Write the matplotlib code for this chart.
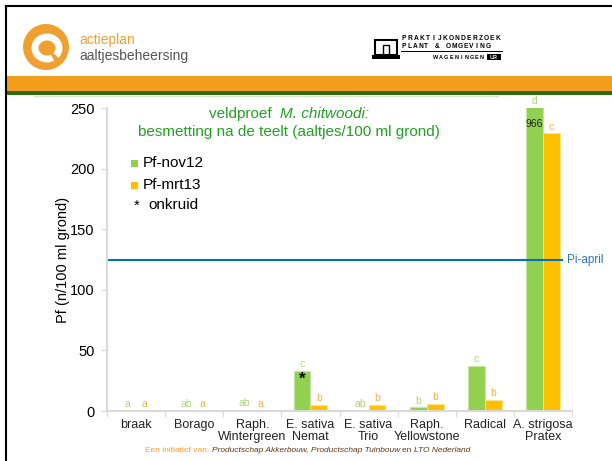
import numpy as np
import matplotlib.pyplot as plt
from matplotlib.patches import Circle, Rectangle, Arc

plt.rcParams["font.family"] = ["Liberation Sans", "DejaVu Sans"]

# data
gewassen = ["braak", "Borago", "Raph.\nWintergreen", "E. sativa\nNemat", "E. sativa\nTrio",
            "Raph.\nYellowstone", "Radical", "A. strigosa\nPratex"]
pf_nov12 = [0, 0.5, 1, 33, 0.5, 3, 37, 966]
pf_mrt13 = [0, 0, 0, 4.7, 5, 6, 9, 229]
letters_nov12 = ["a", "ab", "ab", "c", "ab", "b", "c", "d"]
letters_mrt13 = ["a", "a", "a", "b", "b", "b", "b", "c"]
pi_april = 125
ymax = 250

groen = "#92d050"
oranje = "#ffc000"

fig = plt.figure(figsize=(6.12, 4.61), dpi=100)

# slide decoration layer (pixel coordinates, top-left origin)
deco = fig.add_axes([0, 0, 1, 1])
deco.set_xlim(0, 612)
deco.set_ylim(461, 0)
deco.axis("off")
deco.plot([6, 6], [6, 461], color="black", lw=1.5)
deco.plot([6, 612], [6.5, 6.5], color="black", lw=1.5)
deco.add_patch(Rectangle((6, 76), 606, 15, color="#f49e1e", lw=0))
deco.add_patch(Rectangle((6, 91), 606, 4, color="#2f6b0b", lw=0))
deco.plot([34, 498], [96, 96], color="#d8e4cc", lw=1)

# actieplan logo
deco.add_patch(Circle((46, 47), 23, color="#f0a030", lw=0))
deco.add_patch(Arc((47, 48), 24, 22, theta1=60, theta2=400, color="white", lw=5))
deco.text(79, 40, "actieplan", color="#f0a030", fontsize=10, va="center")
deco.text(79, 56, "aaltjesbeheersing", color="#555555", fontsize=10, va="center")

# PPO logo
deco.add_patch(Rectangle((375, 40), 22, 15, fill=False, ec="black", lw=1.5))
deco.add_patch(Rectangle((383, 45), 6, 10, fill=False, ec="black", lw=1))
deco.add_patch(Rectangle((372, 55), 28, 4, color="black", lw=0))


def spaced(txt, x0, x1, y, size):
    step = (x1 - x0) / (len(txt) - 1)
    for k, ch in enumerate(txt):
        deco.text(x0 + k * step, y, ch, fontsize=size, ha="center", va="center", weight="bold")


spaced("PRAKTIJKONDERZOEK", 404, 498, 39, 4.8)
spaced("PLANT & OMGEVING", 404, 488, 47, 4.8)
deco.plot([401, 502], [51.5, 51.5], color="black", lw=0.7)
spaced("WAGENINGEN", 436, 482, 57.5, 4)
deco.add_patch(Rectangle((487, 54.5), 14, 6, color="black", lw=0))
deco.text(494, 57.5, "UR", fontsize=4, color="white", ha="center", va="center", weight="bold")

fig.canvas.draw()
r = fig.canvas.get_renderer()


def keten(stukken, x0, y, size):
    # place text pieces one after another on one line
    fx = x0
    for s, c, st in stukken:
        t = deco.text(fx, y, s, color=c, fontsize=size, va="center", style=st)
        fx += t.get_window_extent(renderer=r).width
    return fx


# footer
keten([("Een initiatief van: ", "#f0a030", "normal"),
       ("Productschap Akkerbouw, Productschap Tuinbouw ", "#5a3a10", "italic"),
       ("en ", "#5a3a10", "normal"),
       ("LTO Nederland", "#5a3a10", "italic")], 145, 450, 6)

# chart
ax = fig.add_axes([107 / 612, 50 / 461, 465 / 612, 303 / 461])
ax.patch.set_visible(False)
x = np.arange(len(gewassen))
w = 0.29
ax.bar(x - w / 2, pf_nov12, w, color=groen, edgecolor="#c6e6a0", lw=0.6)
ax.bar(x + w / 2, pf_mrt13, w, color=oranje, edgecolor="#ffe08a", lw=0.6)
ax.set_xlim(-0.5, len(gewassen) - 0.5)
ax.set_ylim(0, ymax)

for i in range(len(gewassen)):
    ax.text(x[i] - w / 2, min(pf_nov12[i], ymax) + 1.5, letters_nov12[i], color="#a9d873",
            fontsize=7.5, ha="center", va="bottom", clip_on=False)
    ax.text(x[i] + w / 2, pf_mrt13[i] + 1.5, letters_mrt13[i], color="#f5b040",
            fontsize=7.5, ha="center", va="bottom")

ax.text(x[7] - w / 2, 237, "966", fontsize=7.5, ha="center", va="center", color="#222222")
ax.text(x[3] - w / 2, 26, "*", fontsize=12, ha="center", va="center", color="black", weight="bold")

ax.axhline(pi_april, xmin=0, xmax=(562 - 107) / 465, color="#0070c0", lw=1.5)
ax.text(7.42, pi_april, "Pi-april", color="#2e75b6", fontsize=8.5, va="center",
        ha="left", clip_on=False)

for s in ["top", "right"]:
    ax.spines[s].set_visible(False)
for s in ["left", "bottom"]:
    ax.spines[s].set_color("#d9d9d9")
    ax.spines[s].set_linewidth(1.5)

ax.set_yticks(np.arange(0, 251, 50))
ax.tick_params(axis="y", labelsize=10.5, color="#d9d9d9", length=4, pad=5)
ax.set_xticks(np.arange(-0.5, len(gewassen), 1))
ax.set_xticklabels([])
ax.tick_params(axis="x", which="major", color="#d9d9d9", length=4)
ax.set_xticks(x, minor=True)
ax.set_xticklabels(gewassen, minor=True, fontsize=9, color="#222222", linespacing=1.0)
ax.tick_params(axis="x", which="minor", length=0, pad=6)
ax.set_ylabel("Pf (n/100 ml grond)", fontsize=10.5, labelpad=0)

# title and legend
keten([("veldproef  ", "#22a022", "normal"), ("M. chitwoodi:", "#22a022", "italic")],
      209, 114, 11)
deco.text(288.5, 132, "besmetting na de teelt (aaltjes/100 ml grond)", color="#22a022",
          fontsize=11, va="center", ha="center")
deco.add_patch(Rectangle((131, 160), 7, 7, color=groen, lw=0))
deco.text(143, 163, "Pf-nov12", fontsize=11, va="center")
deco.add_patch(Rectangle((131, 182), 7, 7, color=oranje, lw=0))
deco.text(143, 185, "Pf-mrt13", fontsize=11, va="center")
deco.text(134, 206, "*", fontsize=11, va="center")
deco.text(148, 205, "onkruid", fontsize=11, va="center")

fig.savefig("out.png", dpi=100)
